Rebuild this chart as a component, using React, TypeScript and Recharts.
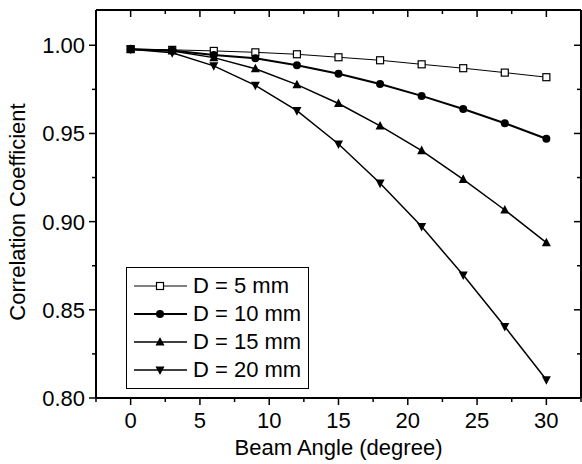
import React from 'react';
import { LineChart, Line, XAxis, YAxis, Legend } from 'recharts';

// beam angle (degree)
const angles = [0, 3, 6, 9, 12, 15, 18, 21, 24, 27, 30];

// correlation coefficient for each aperture D
const d5 = [0.9978, 0.9974, 0.9968, 0.996, 0.9949, 0.9932, 0.9915, 0.9892, 0.987, 0.9845, 0.9819];
const d10 = [0.9978, 0.997, 0.9945, 0.9926, 0.9887, 0.9839, 0.978, 0.9713, 0.9639, 0.9558, 0.947];
const d15 = [0.9978, 0.9968, 0.993, 0.9867, 0.9777, 0.967, 0.9543, 0.9403, 0.924, 0.9066, 0.8881];
const d20 = [0.9978, 0.9958, 0.9883, 0.9773, 0.9629, 0.944, 0.9218, 0.8972, 0.8697, 0.8405, 0.8103];

const xMajor = [0, 5, 10, 15, 20, 25, 30];
const xMinor = [-2.5, 2.5, 7.5, 12.5, 17.5, 22.5, 27.5, 32.5];
const yMajor = [0.8, 0.85, 0.9, 0.95, 1.0];
const yMinor = [0.825, 0.875, 0.925, 0.975];

const seriesNames = ['D = 5 mm', 'D = 10 mm', 'D = 15 mm', 'D = 20 mm'];

const data = angles.map((a, i) => ({ angle: a, d5: d5[i], d10: d10[i], d15: d15[i], d20: d20[i] }));

const W = 582;
const H = 464;
const LEFT = 96;
const TOP = 10;
const BOTTOM = 398;
const RIGHT = 581;
const FONT = '"Liberation Sans", Arial, Helvetica, sans-serif';

const Square = ({ cx, cy, size = 7 }: any) => (
  <rect x={cx - size / 2} y={cy - size / 2} width={size} height={size} fill="#fff" stroke="#000" strokeWidth={1.2} />
);
const Circle = ({ cx, cy, size = 8 }: any) => <circle cx={cx} cy={cy} r={size / 2} fill="#000" />;
const TriUp = ({ cx, cy, size = 9 }: any) => (
  <polygon points={`${cx},${cy - size * 0.55} ${cx - size / 2},${cy + size * 0.4} ${cx + size / 2},${cy + size * 0.4}`} fill="#000" />
);
const TriDown = ({ cx, cy, size = 9 }: any) => (
  <polygon points={`${cx},${cy + size * 0.55} ${cx - size / 2},${cy - size * 0.4} ${cx + size / 2},${cy - size * 0.4}`} fill="#000" />
);

const markers = [Square, Circle, TriUp, TriDown];
const keys = ['d5', 'd10', 'd15', 'd20'];
const widths = [1, 2, 1.5, 1.5];

const dotFor = (M: any) => (p: any) => <M key={`m-${p.index}`} cx={p.cx} cy={p.cy} />;

const BottomTick = ({ payload }: any) => {
  const x = payload.coordinate;
  const major = xMajor.includes(payload.value);
  return (
    <g>
      <line x1={x} x2={x} y1={BOTTOM} y2={BOTTOM + (major ? 7 : 4)} stroke="#000" strokeWidth={1.5} />
      {major && (
        <text x={x} y={BOTTOM + 30} textAnchor="middle" fontSize={22} fontFamily={FONT} fill="#000">
          {payload.value}
        </text>
      )}
    </g>
  );
};

const TopTick = ({ payload }: any) => {
  const x = payload.coordinate;
  const major = xMajor.includes(payload.value);
  return <line x1={x} x2={x} y1={TOP} y2={TOP + (major ? 7 : 4)} stroke="#000" strokeWidth={1.5} />;
};

const LeftTick = ({ payload }: any) => {
  const y = payload.coordinate;
  const major = yMajor.includes(payload.value);
  return (
    <g>
      <line x1={LEFT} x2={LEFT - (major ? 7 : 4)} y1={y} y2={y} stroke="#000" strokeWidth={1.5} />
      {major && (
        <text x={LEFT - 11} y={y} dy="0.36em" textAnchor="end" fontSize={22} fontFamily={FONT} fill="#000">
          {payload.value.toFixed(2)}
        </text>
      )}
    </g>
  );
};

const RightTick = ({ payload }: any) => {
  const y = payload.coordinate;
  const major = yMajor.includes(payload.value);
  return <line x1={RIGHT} x2={RIGHT - (major ? 7 : 4)} y1={y} y2={y} stroke="#000" strokeWidth={1.5} />;
};

const LegendBox = () => (
  <div
    style={{
      border: '1.5px solid #000',
      background: '#fff',
      padding: '4px 0 4px 6px',
      width: 183,
      fontFamily: FONT,
      fontSize: 22,
      color: '#000',
      boxSizing: 'border-box',
      whiteSpace: 'nowrap',
    }}
  >
    {seriesNames.map((name, i) => {
      const M = markers[i];
      return (
        <div key={name} style={{ display: 'flex', alignItems: 'center', height: 28 }}>
          <svg width={60} height={28} style={{ display: 'block', flex: 'none' }}>
            <line x1={1} x2={54} y1={14} y2={14} stroke="#000" strokeWidth={widths[i]} />
            <M cx={27} cy={14} />
          </svg>
          <span style={{ lineHeight: '28px' }}>{name}</span>
        </div>
      );
    })}
  </div>
);

const YTitle = ({ viewBox }: any) => {
  const cy = viewBox.y + viewBox.height / 2 + 8;
  return (
    <text x={25} y={cy} transform={`rotate(-90, 25, ${cy})`} textAnchor="middle" fontSize={22} fontFamily={FONT} fill="#000">
      Correlation Coefficient
    </text>
  );
};

export default function App() {
  return (
    <div style={{ position: 'absolute', left: 0, top: 0, background: '#fff' }}>
      <LineChart width={W} height={H} data={data} margin={{ top: TOP - 1, right: 0, bottom: 0, left: 0 }}>
        <XAxis
          dataKey="angle"
          type="number"
          domain={[-2.5, 32.5]}
          ticks={[...xMajor, ...xMinor]}
          interval={0}
          allowDataOverflow
          height={H - BOTTOM}
          axisLine={{ stroke: '#000', strokeWidth: 2 }}
          tickLine={false}
          tick={<BottomTick />}
          label={{ value: 'Beam Angle (degree)', position: 'insideBottom', offset: 9, fontSize: 22, fontFamily: FONT, fill: '#000' }}
        />
        <XAxis
          xAxisId="top"
          orientation="top"
          dataKey="angle"
          type="number"
          domain={[-2.5, 32.5]}
          ticks={[...xMajor, ...xMinor]}
          interval={0}
          allowDataOverflow
          height={1}
          axisLine={{ stroke: '#000', strokeWidth: 2 }}
          tickLine={false}
          tick={<TopTick />}
        />
        <YAxis
          type="number"
          domain={[0.8, 1.02]}
          ticks={[...yMajor, ...yMinor]}
          interval={0}
          allowDataOverflow
          width={LEFT}
          axisLine={{ stroke: '#000', strokeWidth: 2 }}
          tickLine={false}
          tick={<LeftTick />}
          label={{ content: <YTitle /> }}
        />
        <YAxis
          yAxisId="right"
          orientation="right"
          type="number"
          domain={[0.8, 1.02]}
          ticks={[...yMajor, ...yMinor]}
          interval={0}
          allowDataOverflow
          width={1}
          axisLine={{ stroke: '#000', strokeWidth: 2 }}
          tickLine={false}
          tick={<RightTick />}
        />
        {keys.map((k, i) => (
          <Line
            key={k}
            dataKey={k}
            name={seriesNames[i]}
            type="linear"
            stroke="#000"
            strokeWidth={widths[i]}
            dot={dotFor(markers[i])}
            activeDot={false}
            isAnimationActive={false}
          />
        ))}
        {/* invisible series so the frame axes (top / right) are active */}
        <Line
          xAxisId="top"
          yAxisId="right"
          dataKey="d5"
          stroke="none"
          dot={false}
          activeDot={false}
          legendType="none"
          isAnimationActive={false}
        />
        <Legend
          layout="vertical"
          align="center"
          verticalAlign="middle"
          wrapperStyle={{ left: 126, top: 267, width: 183 }}
          content={<LegendBox />}
        />
      </LineChart>
    </div>
  );
}
